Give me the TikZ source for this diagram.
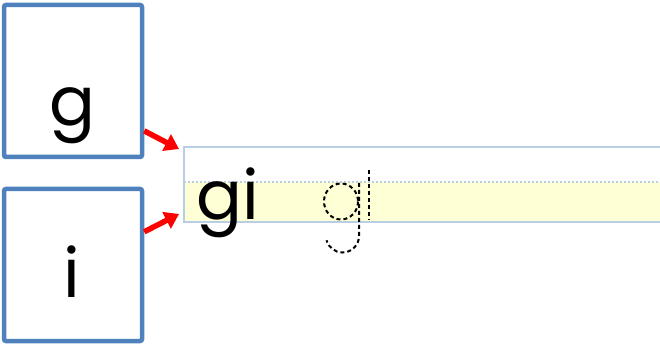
\documentclass[tikz,border=0pt]{standalone}
\usepackage{fontspec}
\setmainfont{Poppins}
\usetikzlibrary{arrows.meta}
\definecolor{boxblue}{HTML}{4F81BD}
\definecolor{guideblue}{HTML}{B9CDE5}
\definecolor{guideyellow}{HTML}{FFFFD5}
\tikzset{
  letterbox/.style={draw=boxblue, line width=4.5pt, rounded corners=2pt, fill=white, minimum width=138pt, minimum height=152pt, inner sep=0pt},
  redarrow/.style={draw=red, line width=5.5pt, -{Triangle[length=14pt,width=18pt]}},
  bigletter/.style={font=\fontsize{68}{68}\selectfont, inner sep=0pt, anchor=base},
  tracing/.style={draw=black, line width=2pt, dash pattern=on 4pt off 3pt},
  guideline/.style={draw=guideblue, line width=1.5pt, dash pattern=on 2pt off 2pt},
}
\begin{document}
\begin{tikzpicture}[x=1pt,y=-1pt]
\useasboundingbox (0,0) rectangle (660,344);
% guide band
\fill[guideyellow] (183,182) rectangle (664,221);
\draw[guideline] (184,182) -- (664,182);
\node[draw=guideblue, line width=2pt, minimum width=480pt, minimum height=75pt, inner sep=0pt, anchor=north west] (guide) at (183,146) {};
% letter boxes
\node[letterbox] (boxg) at (73,81) {};
\node[letterbox] (boxi) at (73,265) {};
\node[bigletter] (lg) at (72,126) {g};
\node[bigletter] (li) at (72,297) {i};
% arrows
\draw[redarrow] (boxg.-35) -- ([shift={(-4,3)}]guide.north west);
\draw[redarrow] (boxi.25) -- ([shift={(-4,-9)}]guide.south west);
% solid word
\node[bigletter, anchor=base west] (gi) at (196,220) {gi};
% dashed tracing word
\draw[tracing] (341,201.5) ellipse [x radius=17, y radius=18];
\draw[tracing] (359,183) -- (359,236) arc[start angle=0, end angle=165, radius=16.5];
\draw[tracing] (369,170) -- (369,220);
\end{tikzpicture}
\end{document}
